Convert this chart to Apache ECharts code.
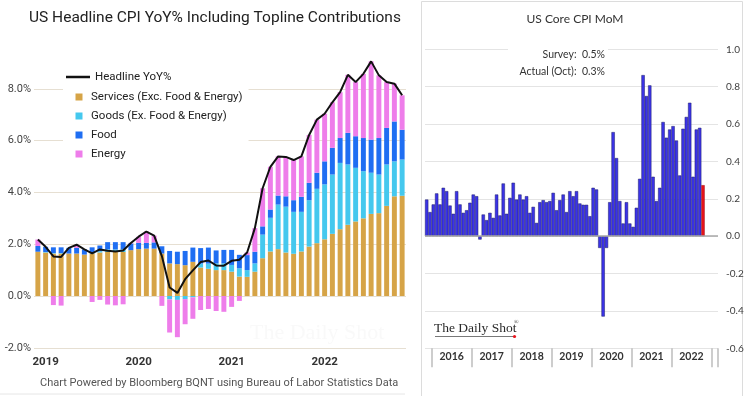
<!DOCTYPE html>
<html>
<head>
<meta charset="utf-8">
<script src="https://cdn.jsdelivr.net/npm/echarts@6/dist/echarts.min.js"></script>
<style>
  html, body { margin: 0; padding: 0; background: #fff; }
  #chart { width: 749px; height: 396px; }
</style>
</head>
<body>
<div id="chart"></div>
<script>
// left panel: headline CPI YoY and its contributions, Nov 2018 - Oct 2022
const leftYears = ['2019', '2020', '2021', '2022'];
const headline = [2.18, 1.9, 1.53, 1.51, 1.86, 1.98, 1.8, 1.65, 1.8, 1.75, 1.72, 1.76,
  2.05, 2.29, 2.49, 2.33, 1.54, 0.33, 0.12, 0.65, 0.99, 1.31, 1.37, 1.18,
  1.17, 1.36, 1.4, 1.68, 2.62, 4.16, 4.99, 5.39, 5.37, 5.25, 5.39, 6.22,
  6.81, 7.04, 7.48, 7.87, 8.54, 8.26, 8.58, 9.06, 8.52, 8.26, 8.2, 7.75];
const services = [1.71, 1.68, 1.64, 1.64, 1.64, 1.64, 1.6, 1.64, 1.68, 1.7, 1.7, 1.7,
  1.77, 1.81, 1.83, 1.83, 1.64, 1.26, 1.23, 1.19, 1.32, 1.1, 1.05, 1.0,
  1.0, 0.94, 0.75, 0.74, 0.94, 1.46, 1.72, 1.81, 1.68, 1.63, 1.72, 1.91,
  2.04, 2.19, 2.4, 2.58, 2.75, 2.88, 3.0, 3.17, 3.2, 3.48, 3.85, 3.87];
const goods = [0, 0.02, 0.02, 0.02, 0, 0, 0, 0.02, 0.05, 0.1, 0.1, 0.1,
  0, 0, 0, 0, 0, -0.13, -0.15, -0.12, -0.05, 0.15, 0.2, 0.26,
  0.26, 0.26, 0.32, 0.26, 0.32, 0.91, 1.3, 1.72, 1.77, 1.62, 1.53, 1.79,
  2.1, 2.12, 2.29, 2.56, 2.33, 2.07, 1.82, 1.59, 1.49, 1.6, 1.35, 1.4];
const food = [0.22, 0.2, 0.22, 0.22, 0.22, 0.22, 0.2, 0.22, 0.22, 0.28, 0.28, 0.28,
  0.26, 0.24, 0.22, 0.24, 0.28, 0.48, 0.48, 0.55, 0.55, 0.6, 0.62, 0.5,
  0.52, 0.58, 0.52, 0.58, 0.45, 0.32, 0.32, 0.35, 0.4, 0.45, 0.58, 0.67,
  0.62, 0.89, 1.03, 0.96, 1.22, 1.22, 1.28, 1.28, 1.41, 1.41, 1.54, 1.15];
const energy = [0.25, 0, -0.35, -0.37, 0, 0.12, 0, -0.23, -0.15, -0.33, -0.36, -0.32,
  0.02, 0.24, 0.44, 0.26, -0.38, -1.28, -1.44, -0.97, -0.83, -0.54, -0.5, -0.58,
  -0.61, -0.42, -0.19, 0.1, 0.91, 1.47, 1.65, 1.51, 1.52, 1.55, 1.56, 1.85,
  2.05, 1.84, 1.76, 1.77, 2.24, 2.09, 2.48, 3.02, 2.42, 1.77, 1.46, 1.33];

// right panel: core CPI MoM, Nov 2015 - Oct 2022 (axis runs to Feb 2023)
const rightYears = ['2016', '2017', '2018', '2019', '2020', '2021', '2022'];
const coreMoM = [0.196, 0.129, 0.17, 0.229, 0.17, 0.259, 0.241, 0.164, 0.12, 0.241,
  0.17, 0.125, 0.139, 0.179, 0.223, 0.214, -0.018, 0.116, 0.086, 0.125,
  0.098, 0.223, 0.111, 0.282, 0.12, 0.205, 0.286, 0.196, 0.223, 0.196,
  0.214, 0.125, 0.157, 0.071, 0.182, 0.193, 0.182, 0.188, 0.232, 0.139,
  0.193, 0.223, 0.129, 0.241, 0.214, 0.241, 0.175, 0.168, 0.168, 0.107,
  0.259, 0.25, -0.063, -0.43, -0.063, 0.182, 0.557, 0.418, 0.188, 0.068,
  0.182, 0.068, 0.05, 0.152, 0.307, 0.862, 0.75, 0.807, 0.318, 0.188,
  0.259, 0.611, 0.527, 0.571, 0.589, 0.512, 0.325, 0.575, 0.638, 0.714,
  0.318, 0.571, 0.58, 0.273];

function months(y, m, n) {
  const out = [];
  for (let i = 0; i < n; i++) {
    const mm = (m - 1 + i) % 12 + 1;
    const yy = y + Math.floor((m - 1 + i) / 12);
    out.push(yy + '-' + (mm < 10 ? '0' : '') + mm);
  }
  return out;
}
const leftMonths = months(2018, 11, 48);
const rightMonths = months(2015, 11, 88);

const SANS = 'Roboto';
const XL = 'Lato';

const chart = echarts.init(document.getElementById('chart'), null, { renderer: 'canvas' });

const rightData = coreMoM.map((v, i) => i === coreMoM.length - 1
  ? { value: v, itemStyle: { color: '#e8141c', borderColor: '#9a0a10' } }
  : v);

const option = {
  animation: false,
  backgroundColor: '#fff',
  title: [
    {
      text: 'US Headline CPI YoY% Including Topline Contributions',
      left: 24, top: 5,
      textStyle: { fontFamily: SANS, fontSize: 15.5, fontWeight: 'normal', color: '#222' }
    },
    {
      text: 'Chart Powered by Bloomberg BQNT using Bureau of Labor Statistics Data',
      left: 35, top: 373,
      textStyle: { fontFamily: SANS, fontSize: 11, fontWeight: 'normal', color: '#555' }
    },
    {
      text: 'US Core CPI MoM',
      left: 570, top: 8, textAlign: 'center',
      textStyle: { fontFamily: XL, fontSize: 12, fontWeight: 'normal', color: '#333' }
    }
  ],
  legend: [
    {
      data: ['Headline YoY%'],
      left: 66, top: 70, padding: 0,
      icon: 'rect', itemWidth: 24, itemHeight: 2.5,
      textStyle: { fontFamily: SANS, fontSize: 11.5, color: '#222', lineHeight: 14 }
    },
    {
      data: ['Services (Exc. Food & Energy)', 'Goods (Ex. Food & Energy)', 'Food', 'Energy'],
      orient: 'vertical', left: 63, top: 86,
      padding: [4, 6, 4, 12.5], backgroundColor: '#fff',
      icon: 'path://M0,0H10V10H0Z', itemWidth: 14, itemHeight: 7, itemGap: 5,
      textStyle: { fontFamily: SANS, fontSize: 11.5, color: '#222', lineHeight: 14 }
    }
  ],
  grid: [
    { left: 34, right: 343, top: 47.4, bottom: 48.2 },
    { left: 425, right: 31, top: 49.3, bottom: 47.7 }
  ],
  xAxis: [
    {
      gridIndex: 0, type: 'category', data: leftMonths,
      axisLine: { show: false, onZero: false }, axisTick: { show: false },
      axisLabel: {
        interval: (i) => i % 12 === 1,
        formatter: (v, i) => leftYears[(i - 1) / 12],
        margin: 8, fontFamily: SANS, fontSize: 11.5, fontWeight: 'bold', color: '#333'
      }
    },
    {
      gridIndex: 1, type: 'category', data: rightMonths,
      axisLine: { show: false, onZero: false },
      axisTick: {
        show: true, interval: (i) => (i - 2) % 12 === 0,
        length: 19, lineStyle: { color: '#bdbdbd', width: 1.5 }
      },
      axisLabel: {
        interval: (i) => (i - 8) % 12 === 0,
        formatter: (v, i) => rightYears[(i - 8) / 12],
        margin: 3, padding: [0, 3.3, 0, 0],
        fontFamily: XL, fontSize: 10.5, fontWeight: 'bold', color: '#333'
      }
    }
  ],
  yAxis: [
    {
      gridIndex: 0, type: 'value', min: -2, max: 9.6, interval: 2,
      axisLine: { show: false }, axisTick: { show: false },
      axisLabel: {
        formatter: (v) => v.toFixed(1) + '%', showMaxLabel: false,
        margin: 3, fontFamily: SANS, fontSize: 11, color: '#444'
      },
      splitLine: { showMaxLine: false, lineStyle: { color: '#e6dfd2', width: 1 } }
    },
    {
      gridIndex: 1, type: 'value', position: 'right', min: -0.6, max: 1.0, interval: 0.2,
      axisLine: { show: false }, axisTick: { show: false },
      axisLabel: {
        formatter: (v) => v.toFixed(1),
        margin: 8, fontFamily: XL, fontSize: 10, color: '#404040'
      },
      splitLine: { lineStyle: { color: '#e4e4e4', width: 1 } }
    }
  ],
  series: [
    {
      name: 'Services (Exc. Food & Energy)', type: 'bar', stack: 'cpi',
      xAxisIndex: 0, yAxisIndex: 0, barCategoryGap: '36%',
      itemStyle: { color: '#d6a447' }, data: services
    },
    {
      name: 'Goods (Ex. Food & Energy)', type: 'bar', stack: 'cpi',
      xAxisIndex: 0, yAxisIndex: 0,
      itemStyle: { color: '#45c8ee' }, data: goods
    },
    {
      name: 'Food', type: 'bar', stack: 'cpi',
      xAxisIndex: 0, yAxisIndex: 0,
      itemStyle: { color: '#1f6ef2' }, data: food
    },
    {
      name: 'Energy', type: 'bar', stack: 'cpi',
      xAxisIndex: 0, yAxisIndex: 0,
      itemStyle: { color: '#ee7dea' }, data: energy
    },
    {
      name: 'Headline YoY%', type: 'line', xAxisIndex: 0, yAxisIndex: 0,
      symbol: 'none', z: 5,
      itemStyle: { color: '#111' },
      lineStyle: { color: '#111', width: 2 },
      data: headline
    },
    {
      name: 'Core CPI MoM', type: 'bar', xAxisIndex: 1, yAxisIndex: 1,
      barCategoryGap: '0%',
      itemStyle: { color: '#3b33e8', borderColor: '#1e1e66', borderWidth: 0.5 },
      markLine: {
        silent: true, symbol: 'none', label: { show: false },
        lineStyle: { color: '#a8a8a8', width: 1.5, type: 'solid' },
        data: [{ yAxis: 0 }]
      },
      data: rightData
    }
  ],
  graphic: [
    // panel frames
    { type: 'rect', shape: { x: 421.5, y: 1.5, width: 321, height: 400 },
      style: { fill: 'none', stroke: '#dcdcdc', lineWidth: 1 }, silent: true },
    { type: 'line', shape: { x1: 0, y1: 394, x2: 405, y2: 394 },
      style: { stroke: '#e6e6e6', lineWidth: 1 }, silent: true },
    // faint watermark on left panel
    { type: 'text', x: 250, y: 322, silent: true,
      style: { text: 'The Daily Shot', font: '22px "Liberation Serif"', fill: 'rgba(170,170,170,0.07)' } },
    // survey / actual box
    { type: 'rect', shape: { x: 508, y: 43, width: 100, height: 38 },
      style: { fill: '#fff' }, silent: true, z: 10 },
    { type: 'text', x: 605, y: 55, z: 11, silent: true,
      style: { text: 'Survey:  0.5%', align: 'right', verticalAlign: 'middle',
        font: '10.5px ' + XL, fill: '#333' } },
    { type: 'text', x: 605, y: 72, z: 11, silent: true,
      style: { text: 'Actual (Oct):  0.3%', align: 'right', verticalAlign: 'middle',
        font: '10.5px ' + XL, fill: '#333' } },
    // logo
    { type: 'text', x: 434, y: 321, z: 11, silent: true,
      style: { text: 'The Daily Shot', font: '13.5px "Liberation Serif"', fill: '#2a2a2a' } },
    { type: 'text', x: 514, y: 319, z: 11, silent: true,
      style: { text: '®', font: '6px "Liberation Serif"', fill: '#2a2a2a' } },
    { type: 'line', z: 11, silent: true, shape: { x1: 435, y1: 336.5, x2: 513, y2: 336.5 },
      style: { stroke: '#555', lineWidth: 0.8 } },
    { type: 'circle', z: 11, silent: true, shape: { cx: 514.5, cy: 336.5, r: 1.6 },
      style: { fill: '#e8141c' } }
  ]
};

chart.setOption(option);
window.addEventListener('resize', () => chart.resize());
</script>
</body>
</html>
